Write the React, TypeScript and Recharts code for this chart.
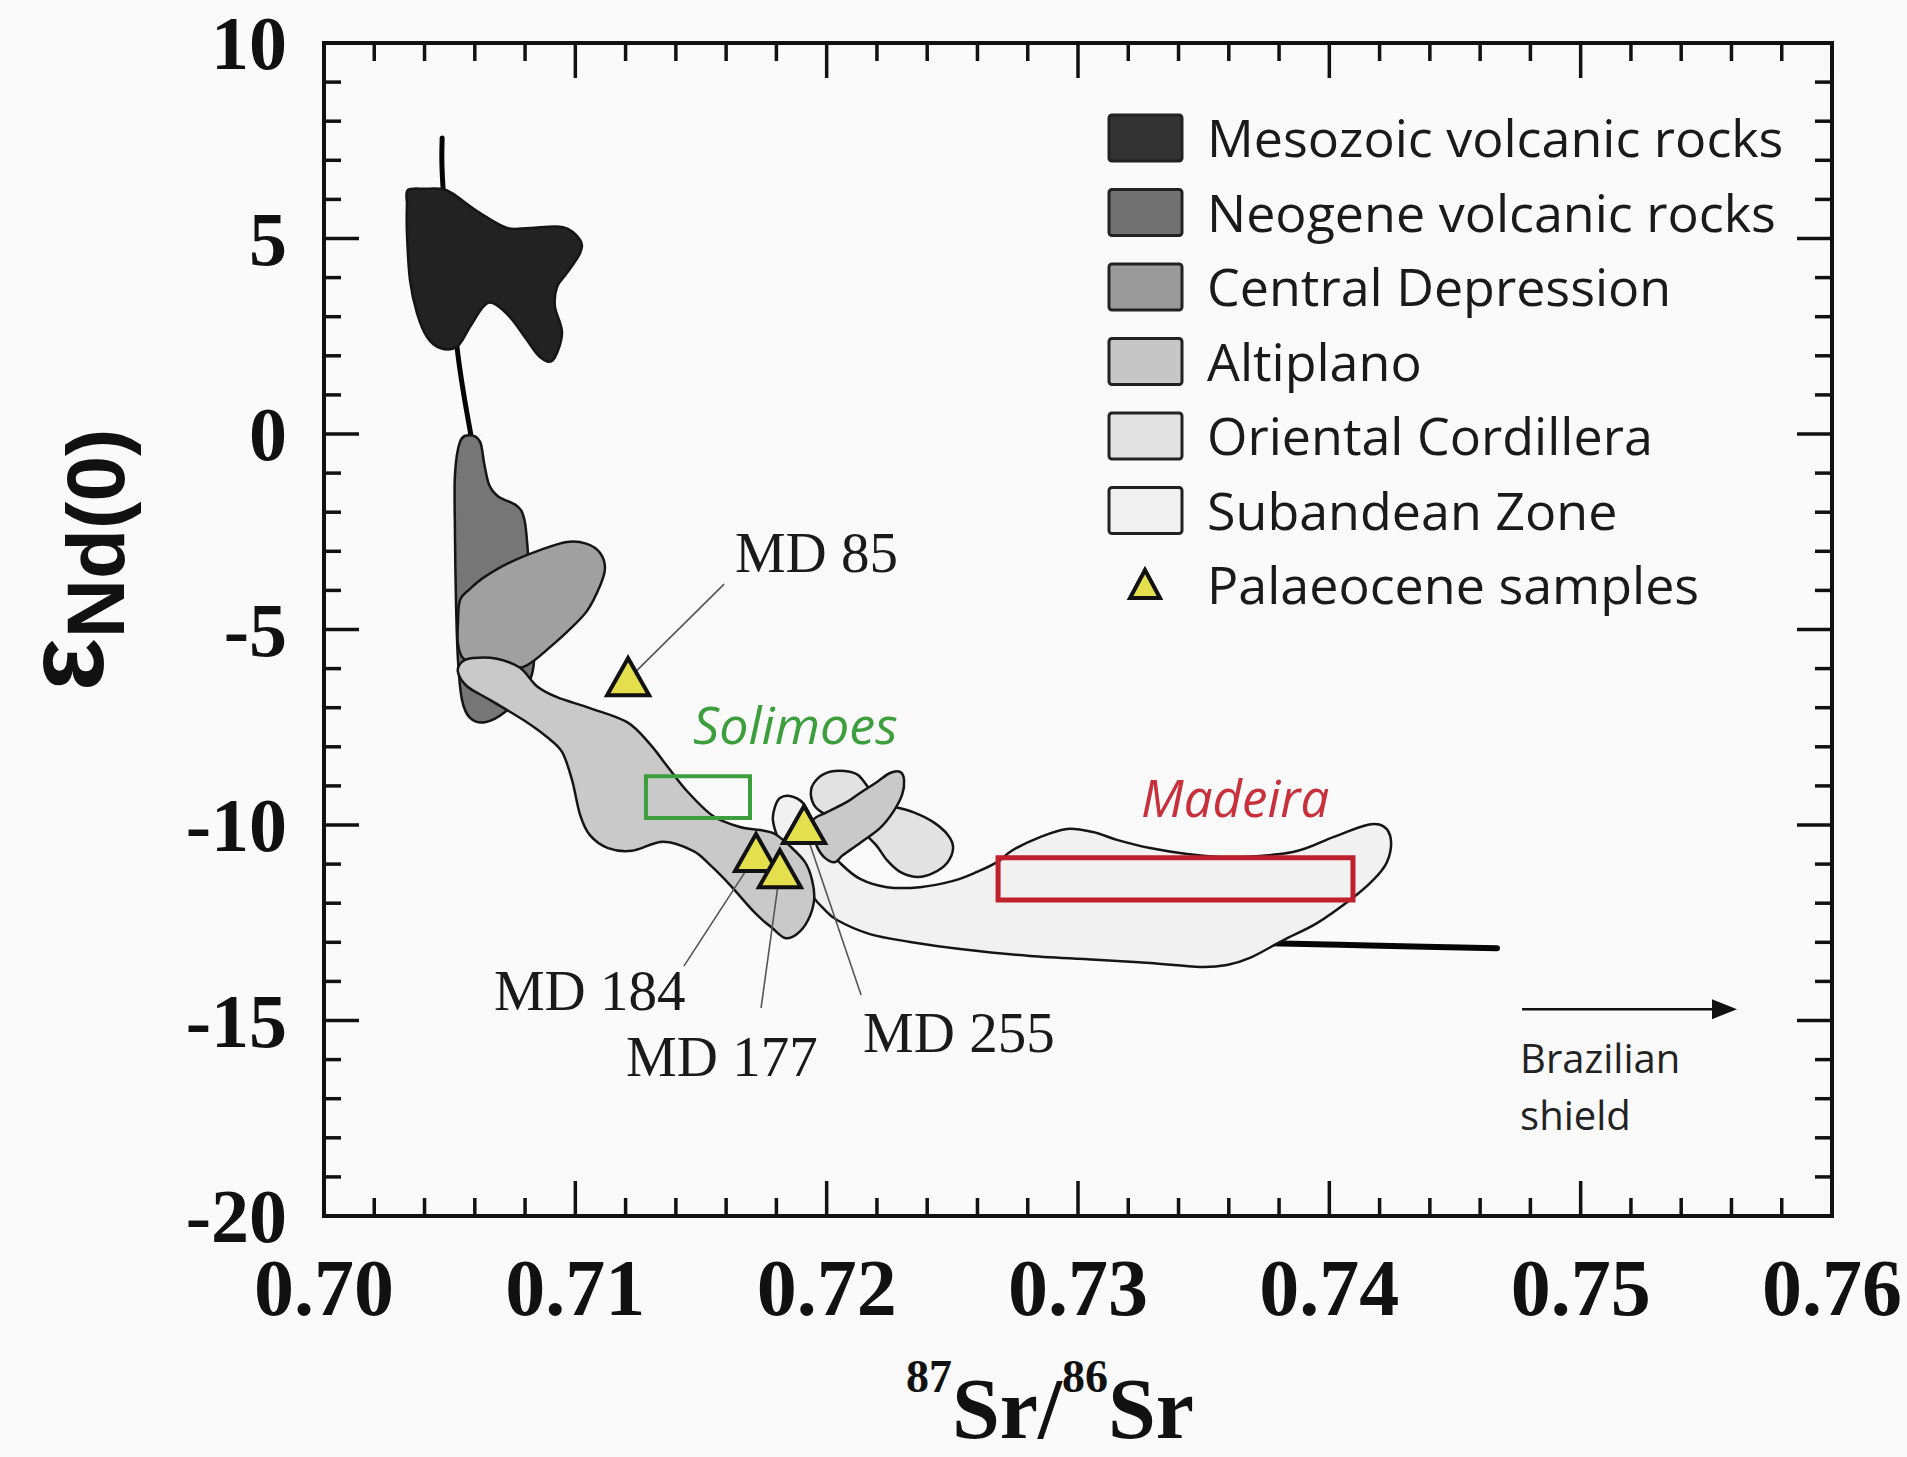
import React from 'react';
import { ScatterChart, Scatter, XAxis, YAxis, Legend } from 'recharts';

type Pt = [number, number];

// axis ticks (labelled majors), minors are filled in between
const X_TICKS = [0.7, 0.71, 0.72, 0.73, 0.74, 0.75, 0.76];
const Y_TICKS = [10, 5, 0, -5, -10, -15, -20];
const X_MINOR_STEP = 0.002;
const Y_MINOR_STEP = 1;

const LEGEND_NAMES = [
  'Mesozoic volcanic rocks',
  'Neogene volcanic rocks',
  'Central Depression',
  'Altiplano',
  'Oriental Cordillera',
  'Subandean Zone',
  'Palaeocene samples',
];
const LEGEND_FILLS = ['#333333', '#717171', '#9a9a9a', '#c6c6c6', '#e2e2e2', '#f0f0f0'];

// fields, outlines (87Sr/86Sr, eNd)
const MESOZOIC: Pt[] = [
  [0.70334, 6.24], [0.70402, 6.27], [0.70462, 6.27], [0.70509, 6.16], [0.70621, 5.65], [0.70728, 5.27],
  [0.7082, 5.27], [0.70951, 5.29], [0.71019, 4.96], [0.71019, 4.63], [0.70967, 4.12], [0.70927, 3.76],
  [0.70919, 3.25], [0.70947, 2.58], [0.70911, 1.89], [0.70859, 1.97], [0.70808, 2.4], [0.7074, 2.99],
  [0.70672, 3.35], [0.70633, 3.25], [0.70581, 2.74], [0.70529, 2.23], [0.70462, 2.2], [0.7041, 2.48],
  [0.7037, 3.09], [0.70342, 3.94], [0.7033, 5.14], [0.7033, 5.86],
];
const NEOGENE: Pt[] = [
  [0.70541, -0.2], [0.70581, -0.03], [0.70621, -0.2], [0.70637, -0.74], [0.70657, -1.3], [0.70692, -1.59],
  [0.70768, -1.84], [0.70796, -2.15], [0.70808, -2.76], [0.70824, -4.25], [0.70836, -5.78], [0.708, -6.55],
  [0.7072, -7.11], [0.70641, -7.37], [0.70581, -7.26], [0.70549, -6.8], [0.70533, -5.78], [0.70525, -4.25],
  [0.70521, -2.46], [0.70521, -1.05],
];
const CENTRAL_DEPRESSION: Pt[] = [
  [0.70533, -4.81], [0.70541, -4.25], [0.70581, -3.96], [0.70633, -3.68], [0.70728, -3.32], [0.70859, -2.97],
  [0.70967, -2.76], [0.71046, -2.81], [0.71098, -3.04], [0.71118, -3.43], [0.71098, -3.89], [0.71046, -4.53],
  [0.70967, -5.06], [0.70887, -5.52], [0.70832, -5.81], [0.7078, -5.98], [0.707, -5.98], [0.70621, -5.91],
  [0.70553, -5.73], [0.70533, -5.35],
];
const ALTIPLANO: Pt[] = [
  [0.70533, -6.09], [0.70549, -5.83], [0.70593, -5.73], [0.70688, -5.75], [0.7078, -5.98], [0.70847, -6.45],
  [0.70927, -6.73], [0.71058, -7.01], [0.71206, -7.37], [0.71297, -7.93], [0.71365, -8.49], [0.71444, -9.13],
  [0.71548, -9.77], [0.71655, -10.05], [0.71735, -10.13], [0.71794, -10.23], [0.71854, -10.54], [0.71914, -10.95],
  [0.71942, -11.41], [0.7195, -11.92], [0.71926, -12.43], [0.71882, -12.79], [0.71834, -12.89], [0.71782, -12.63],
  [0.71715, -12.25], [0.71615, -11.53], [0.71536, -11.02], [0.71468, -10.66], [0.71349, -10.43], [0.71225, -10.66],
  [0.7113, -10.59], [0.71058, -10.26], [0.71019, -9.74], [0.70987, -8.85], [0.70947, -8.13], [0.70887, -7.75],
  [0.70792, -7.31], [0.7066, -6.8], [0.70569, -6.45],
];
const ALTIPLANO_2: Pt[] = [
  [0.71946, -9.87], [0.72001, -9.67], [0.72081, -9.41], [0.72133, -9.18], [0.722, -8.9], [0.72252, -8.67],
  [0.72292, -8.64], [0.72308, -8.85], [0.723, -9.23], [0.72264, -9.67], [0.72212, -10.08], [0.72133, -10.46],
  [0.72065, -10.77], [0.72033, -10.95], [0.71993, -10.84], [0.71962, -10.56], [0.71946, -10.2],
];
const ORIENTAL_CORDILLERA: Pt[] = [
  [0.71938, -9.1], [0.71966, -8.8], [0.72013, -8.64], [0.72073, -8.62], [0.72125, -8.72], [0.72172, -9.1],
  [0.72212, -9.44], [0.72272, -9.54], [0.72344, -9.67], [0.72423, -9.92], [0.72483, -10.26], [0.72503, -10.59],
  [0.72479, -10.97], [0.72423, -11.23], [0.72359, -11.33], [0.72292, -11.2], [0.7224, -10.9], [0.72196, -10.51],
  [0.72141, -10.18], [0.72073, -9.92], [0.71993, -9.72], [0.7195, -9.49],
];
const SUBANDEAN: Pt[] = [
  [0.71794, -9.54], [0.71814, -9.31], [0.71854, -9.26], [0.71906, -9.44], [0.71946, -9.92], [0.71985, -10.46],
  [0.72053, -10.97], [0.72133, -11.38], [0.7224, -11.59], [0.72371, -11.59], [0.72503, -11.43], [0.72598, -11.2],
  [0.72678, -10.95], [0.72741, -10.64], [0.72849, -10.31], [0.72956, -10.1], [0.7306, -10.18], [0.73155, -10.38],
  [0.73287, -10.59], [0.73434, -10.74], [0.73605, -10.82], [0.73855, -10.69], [0.74015, -10.31], [0.7415, -10.0],
  [0.74214, -10.03], [0.74245, -10.38], [0.74229, -10.95], [0.74174, -11.41], [0.74082, -11.92], [0.73951, -12.51],
  [0.73816, -12.95], [0.73684, -13.4], [0.73593, -13.58], [0.73485, -13.63], [0.73287, -13.53], [0.73088, -13.45],
  [0.72809, -13.35], [0.72531, -13.17], [0.72332, -12.99], [0.72172, -12.79], [0.72041, -12.43], [0.71985, -12.12],
  [0.71946, -11.84], [0.71894, -11.36], [0.71846, -10.84], [0.71806, -10.33], [0.71786, -9.87],
];

// mixing trend, drawn as thick line pieces
const TREND_TOP: Pt[] = [[0.7047, 7.57], [0.70474, 6.27], [0.70529, 2.23], [0.70585, -0.05]];
const TREND_BOTTOM: Pt[] = [[0.73752, -13.02], [0.74202, -13.09], [0.74667, -13.15]];

// river sediment boxes: [min, max]
const SOLIMOES_X = [0.71281, 0.71695];
const SOLIMOES_Y = [-9.82, -8.75];
const MADEIRA_X = [0.72682, 0.74094];
const MADEIRA_Y = [-11.92, -10.84];

const SAMPLE_NAMES = ['MD 85', 'MD 184', 'MD 177', 'MD 255'];
const SAMPLE_SR = [0.7121, 0.71719, 0.71814, 0.7191];
const SAMPLE_ND = [-6.27, -10.77, -11.18, -10.05];
// leader line end and label anchor (text start, baseline) for each sample
const LEADER_END: Pt[] = [[0.71592, -3.84], [0.71432, -13.61], [0.71739, -14.68], [0.72137, -14.35]];
const LABEL_POS: Pt[] = [[0.71635, -3.53], [0.70676, -14.73], [0.71202, -16.42], [0.72145, -15.81]];

const ARROW: Pt[] = [[0.74767, -14.71], [0.75622, -14.71]];

const W = 1907;
const H = 1457;
const SERIF = '"Liberation Serif", "Times New Roman", serif';
const SANS = '"Open Sans", "Noto Sans", sans-serif';

const toPts = (arr: Pt[]) => arr.map(([x, y]) => ({ x, y }));
const boxPts = (xs: number[], ys: number[]) => [
  { x: xs[0], y: ys[0] }, { x: xs[1], y: ys[0] }, { x: xs[1], y: ys[1] }, { x: xs[0], y: ys[1] },
];

const near = (a: number, b: number) => Math.abs(a - b) < 1e-6;
const xAllTicks = Array.from({ length: 31 }, (_, i) => +(0.7 + i * X_MINOR_STEP).toFixed(3));
const yAllTicks = Array.from({ length: 31 }, (_, i) => -20 + i * Y_MINOR_STEP);

// catmull-rom through the outline points
const smoothClosed = (pts: { x: number; y: number }[]) => {
  const n = pts.length;
  let d = `M${pts[0].x},${pts[0].y}`;
  for (let i = 0; i < n; i++) {
    const p0 = pts[(i - 1 + n) % n], p1 = pts[i], p2 = pts[(i + 1) % n], p3 = pts[(i + 2) % n];
    d += `C${p1.x + (p2.x - p0.x) / 6},${p1.y + (p2.y - p0.y) / 6} ${p2.x - (p3.x - p1.x) / 6},${p2.y - (p3.y - p1.y) / 6} ${p2.x},${p2.y}`;
  }
  return d + 'Z';
};
const smoothOpen = (pts: { x: number; y: number }[]) => {
  const n = pts.length;
  let d = `M${pts[0].x},${pts[0].y}`;
  for (let i = 0; i < n - 1; i++) {
    const p0 = pts[Math.max(i - 1, 0)], p1 = pts[i], p2 = pts[i + 1], p3 = pts[Math.min(i + 2, n - 1)];
    d += `C${p1.x + (p2.x - p0.x) / 6},${p1.y + (p2.y - p0.y) / 6} ${p2.x - (p3.x - p1.x) / 6},${p2.y - (p3.y - p1.y) / 6} ${p2.x},${p2.y}`;
  }
  return d;
};

const region = (fill: string) => (p: any) => (
  <path d={smoothClosed(p.points)} fill={fill} stroke="#151515" strokeWidth={2.5} strokeLinejoin="round" />
);
const trend = (w: number) => (p: any) => (
  <path d={smoothOpen(p.points)} fill="none" stroke="#050505" strokeWidth={w} strokeLinecap="round" />
);
const box = (color: string, w: number) => (p: any) => (
  <path d={'M' + p.points.map((q: any) => `${q.x},${q.y}`).join('L') + 'Z'} fill="none" stroke={color} strokeWidth={w} />
);
const leader = (p: any) => (
  <line x1={p.points[0].x} y1={p.points[0].y} x2={p.points[1].x} y2={p.points[1].y} stroke="#555" strokeWidth={1.6} />
);
const arrow = (p: any) => {
  const [a, b] = p.points;
  return (
    <g>
      <line x1={a.x} y1={a.y} x2={b.x - 20} y2={b.y} stroke="#111" strokeWidth={2.5} />
      <polygon points={`${b.x},${b.y} ${b.x - 25},${b.y - 10} ${b.x - 25},${b.y + 10}`} fill="#111" />
    </g>
  );
};
const noDot = () => <g />;

const Triangle = (p: any) => (
  <polygon
    points={`${p.cx},${p.cy - 21} ${p.cx + 21},${p.cy + 16} ${p.cx - 21},${p.cy + 16}`}
    fill="#e4df4c"
    stroke="#111"
    strokeWidth={4}
  />
);

const textShape = (style: React.SVGProps<SVGTextElement>) => (p: any) => (
  <text x={p.cx} y={p.cy} {...style}>
    {p.payload.label}
  </text>
);

const XTick = (props: any) => {
  const { x, y, payload, side } = props;
  const major = X_TICKS.some((t) => near(t, payload.value));
  const len = major ? 35 : 18;
  const dir = side === 'top' ? 1 : -1;
  return (
    <g>
      <line x1={x} x2={x} y1={y} y2={y + dir * len} stroke="#111" strokeWidth={3.5} />
      {side === 'bottom' && major && (
        <text x={x} y={y + 99} textAnchor="middle" fontFamily={SERIF} fontWeight="bold" fontSize={80} fill="#111">
          {payload.value.toFixed(2)}
        </text>
      )}
    </g>
  );
};

const YTick = (props: any) => {
  const { x, y, payload, side } = props;
  const major = Y_TICKS.some((t) => near(t, payload.value));
  const len = major ? 35 : 17;
  const dir = side === 'left' ? 1 : -1;
  return (
    <g>
      <line x1={x} x2={x + dir * len} y1={y} y2={y} stroke="#111" strokeWidth={3.5} />
      {side === 'left' && major && (
        <text x={x - 37} y={y + 26} textAnchor="end" fontFamily={SERIF} fontWeight="bold" fontSize={76} fill="#111">
          {String(payload.value)}
        </text>
      )}
    </g>
  );
};

const XTitle = () => (
  <text x={906} y={1438} fontFamily={SERIF} fontWeight="bold" fontSize={86} fill="#111">
    <tspan fontSize={46} dy={-46}>87</tspan>
    <tspan dy={46}>Sr/</tspan>
    <tspan fontSize={46} dy={-46}>86</tspan>
    <tspan dy={46}>Sr</tspan>
  </text>
);

const YTitle = () => (
  <g transform="translate(103, 560) rotate(-90)">
    <text x={0} y={0} textAnchor="middle" fontFamily='"Liberation Sans", Arial, sans-serif' fontWeight="bold" fill="#111">
      <tspan fontSize={112}>ε</tspan>
      <tspan fontSize={82} dy={21}>Nd(0)</tspan>
    </text>
  </g>
);

const LegendBox = () => (
  <svg width={780} height={520} style={{ display: 'block' }}>
    {LEGEND_NAMES.map((name, i) => {
      const cy = 38 + i * 74.5;
      return (
        <g key={name}>
          {i < LEGEND_FILLS.length ? (
            <rect x={9} y={cy - 23} width={73} height={46} rx={3} fill={LEGEND_FILLS[i]} stroke="#222" strokeWidth={3} />
          ) : (
            <polygon points={`45,${cy - 15} 60,${cy + 13} 30,${cy + 13}`} fill="#e4df4c" stroke="#111" strokeWidth={4} />
          )}
          <text x={107} y={cy + 19} fontFamily={SANS} fontSize={52} fill="#1a1a1a">
            {name}
          </text>
        </g>
      );
    })}
  </svg>
);

export default function App() {
  const samples = SAMPLE_NAMES.map((label, i) => ({ x: SAMPLE_SR[i], y: SAMPLE_ND[i], label }));
  const labels = SAMPLE_NAMES.map((label, i) => ({ x: LABEL_POS[i][0], y: LABEL_POS[i][1], label }));
  const ax = { xAxisId: 'x', yAxisId: 'y', isAnimationActive: false };
  const axisLine = { stroke: '#111', strokeWidth: 4, strokeLinecap: 'square' as const };

  return (
    <div style={{ position: 'absolute', left: 0, top: 0, width: W, height: H, background: '#fafafa' }}>
      <ScatterChart width={W} height={H} margin={{ top: 23, right: 55, bottom: 0, left: 0 }}>
        <XAxis
          xAxisId="x"
          dataKey="x"
          type="number"
          domain={[0.7, 0.76]}
          allowDataOverflow
          ticks={xAllTicks}
          interval={0}
          tickSize={0}
          tickMargin={0}
          tickLine={false}
          axisLine={axisLine}
          tick={<XTick side="bottom" />}
          height={241}
          label={{ content: () => <XTitle /> }}
        />
        <XAxis
          xAxisId="xt"
          orientation="top"
          dataKey="x"
          type="number"
          domain={[0.7, 0.76]}
          allowDataOverflow
          ticks={xAllTicks}
          interval={0}
          tickSize={0}
          tickMargin={0}
          tickLine={false}
          axisLine={axisLine}
          tick={<XTick side="top" />}
          height={20}
        />
        <YAxis
          yAxisId="y"
          dataKey="y"
          type="number"
          domain={[-20, 10]}
          allowDataOverflow
          ticks={yAllTicks}
          interval={0}
          tickSize={0}
          tickMargin={0}
          tickLine={false}
          axisLine={axisLine}
          tick={<YTick side="left" />}
          width={324}
          label={{ content: () => <YTitle /> }}
        />
        <YAxis
          yAxisId="yr"
          orientation="right"
          dataKey="y"
          type="number"
          domain={[-20, 10]}
          allowDataOverflow
          ticks={yAllTicks}
          interval={0}
          tickSize={0}
          tickMargin={0}
          tickLine={false}
          axisLine={axisLine}
          tick={<YTick side="right" />}
          width={20}
        />
        <Legend
          layout="vertical"
          align="center"
          verticalAlign="middle"
          content={<LegendBox />}
          wrapperStyle={{ left: 1100, top: 100, width: 780, height: 520 }}
        />

        <Scatter {...ax} name="trend-top" data={toPts(TREND_TOP)} line={trend(5)} shape={noDot} />
        <Scatter {...ax} name="trend-bottom" data={toPts(TREND_BOTTOM)} line={trend(6)} shape={noDot} />
        <Scatter {...ax} name="Subandean Zone" data={toPts(SUBANDEAN)} line={region('#f1f1f1')} shape={noDot} />
        <Scatter {...ax} name="Oriental Cordillera" data={toPts(ORIENTAL_CORDILLERA)} line={region('#e2e2e2')} shape={noDot} />
        <Scatter {...ax} name="Neogene volcanic rocks" data={toPts(NEOGENE)} line={region('#767676')} shape={noDot} />
        <Scatter {...ax} name="Central Depression" data={toPts(CENTRAL_DEPRESSION)} line={region('#a0a0a0')} shape={noDot} />
        <Scatter {...ax} name="Altiplano" data={toPts(ALTIPLANO)} line={region('#c9c9c9')} shape={noDot} />
        <Scatter {...ax} name="Altiplano 2" data={toPts(ALTIPLANO_2)} line={region('#c9c9c9')} shape={noDot} />
        <Scatter {...ax} name="Mesozoic volcanic rocks" data={toPts(MESOZOIC)} line={region('#222222')} shape={noDot} />

        <Scatter {...ax} name="Solimoes box" data={boxPts(SOLIMOES_X, SOLIMOES_Y)} line={box('#3c9e3c', 4)} shape={noDot} />
        <Scatter {...ax} name="Madeira box" data={boxPts(MADEIRA_X, MADEIRA_Y)} line={box('#c01f2c', 5)} shape={noDot} />

        {samples.map((s, i) => (
          <Scatter
            key={s.label + '-leader'}
            {...ax}
            data={[{ x: s.x, y: s.y }, { x: LEADER_END[i][0], y: LEADER_END[i][1] }]}
            line={leader}
            shape={noDot}
          />
        ))}
        <Scatter {...ax} name="Palaeocene samples" data={samples} shape={Triangle} />
        <Scatter
          {...ax}
          name="sample labels"
          data={labels}
          shape={textShape({ fontFamily: SERIF, fontSize: 57, fill: '#1a1a1a' })}
        />
        <Scatter
          {...ax}
          name="Solimoes"
          data={[{ x: 0.71468, y: -7.93, label: 'Solimoes' }]}
          shape={textShape({ fontFamily: SANS, fontStyle: 'italic', fontSize: 52, fill: '#3c9e3c' })}
        />
        <Scatter
          {...ax}
          name="Madeira"
          data={[{ x: 0.73251, y: -9.8, label: 'Madeira' }]}
          shape={textShape({ fontFamily: SANS, fontStyle: 'italic', fontSize: 51, fill: '#c8303c' })}
        />
        <Scatter {...ax} name="arrow" data={toPts(ARROW)} line={arrow} shape={noDot} />
        <Scatter
          {...ax}
          name="Brazilian shield"
          data={[
            { x: 0.74759, y: -16.34, label: 'Brazilian' },
            { x: 0.74759, y: -17.8, label: 'shield' },
          ]}
          shape={textShape({ fontFamily: SANS, fontSize: 40, fill: '#222' })}
        />
      </ScatterChart>
    </div>
  );
}
